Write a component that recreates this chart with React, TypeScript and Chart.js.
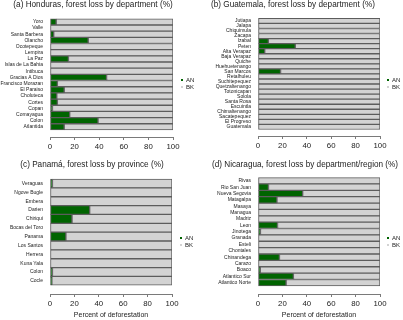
import React, { useEffect, useRef } from 'react';
import { Chart, registerables } from 'chart.js';

Chart.register(...registerables);

// ---------- data ----------
const hondurasDepartments = ['Yoro', 'Valle', 'Santa Barbera', 'Olancho', 'Ocotepeque', 'Lempira', 'La Paz', 'Islas de La Bahia', 'Intibuca', 'Gracias A Dios', 'Francisco Morazan', 'El Paraiso', 'Choluteca', 'Cortes', 'Copan', 'Comayagua', 'Colon', 'Atlantida'];
const hondurasAN = [5, 0, 3, 31, 0, 0, 15, 0, 0, 46, 6, 11.5, 5.5, 6, 2, 16, 39, 11.5];
const hondurasBK = [95, 100, 97, 69, 100, 100, 85, 100, 100, 54, 94, 88.5, 94.5, 94, 98, 84, 61, 88.5];

const guatemalaDepartments = ['Jutiapa', 'Jalapa', 'Chiquimula', 'Zacapa', 'Izabal', 'Peten', 'Alta Verapaz', 'Baja Verapaz', 'Quiche', 'Huehuetenango', 'San Marcos', 'Retalhuleu', 'Suchitepequez', 'Quetzaltenango', 'Totonicapan', 'Solola', 'Santa Rosa', 'Escuintla', 'Chimaltenango', 'Sacatepequez', 'El Progreso', 'Guatemala'];
const guatemalaAN = [0, 0, 0, 0, 8.5, 30.5, 5.5, 0, 0, 0, 18.5, 0, 0, 0, 0, 0, 0, 0, 0, 0, 0, 0];
const guatemalaBK = [100, 100, 100, 100, 91.5, 69.5, 94.5, 100, 100, 100, 81.5, 100, 100, 100, 100, 100, 100, 100, 100, 100, 100, 100];

const panamaProvinces = ['Veraguas', 'Ngove Bugle', 'Embera', 'Darien', 'Chiriqui', 'Bocas del Toro', 'Panama', 'Los Santos', 'Herrera', 'Kuna Yala', 'Colon', 'Cocle'];
const panamaAN = [2, 0, 0, 32.5, 18, 0, 13, 0, 0, 0, 2, 1.5];
const panamaBK = [98, 100, 100, 67.5, 82, 100, 87, 100, 100, 100, 98, 98.5];

const nicaraguaDepartments = ['Rivas', 'Rio San Juan', 'Nueva Segovia', 'Matagalpa', 'Masaya', 'Managua', 'Madriz', 'Leon', 'Jinotega', 'Granada', 'Esteli', 'Chontales', 'Chinandega', 'Carazo', 'Boaco', 'Atlantico Sur', 'Atlantico Norte'];
const nicaraguaAN = [0, 8.6, 36.6, 15.5, 0, 0, 0, 16, 2, 0, 0, 0, 17.6, 0, 1.8, 29, 23];
const nicaraguaBK = [100, 91.4, 63.4, 84.5, 100, 100, 100, 84, 98, 100, 100, 100, 82.4, 100, 98.2, 71, 77];

const xTickValues = [0, 20, 40, 60, 80, 100];
const seriesNames = ['AN', 'BK'];
const xAxisTitle = 'Percent of deforestation';

// ---------- styles ----------
const AN_COLOR = '#006400';
const BK_COLOR = '#d3d3d3';
const EDGE = '#5c5c5c';
const AXIS = '#7a7a7a';
const TEXT = '#222222';
const FONT = '"Liberation Sans", Arial, Helvetica, sans-serif';

type Panel = {
  title: string;
  labels: string[];
  an: number[];
  bk: number[];
  xTitle?: string;
  left: number;
  top: number;
  W: number;
  H: number;
  padL: number;
  padR: number;
  plotLeft: number;
  plotRight: number;
  titleGap: number;
  axisHeight: number;
  gap: number;
  legendX: number;
  legendY: number;
};

const panels: Panel[] = [
  {
    title: '(a) Honduras, forest loss by department (%)',
    labels: hondurasDepartments, an: hondurasAN, bk: hondurasBK,
    left: 0, top: 0, W: 200, H: 160, padL: 0, padR: 14, plotLeft: 50, plotRight: 173,
    titleGap: 5.6, axisHeight: 23, gap: 0.6, legendX: 182, legendY: 80,
  },
  {
    title: '(b) Guatemala, forest loss by department (%)',
    labels: guatemalaDepartments, an: guatemalaAN, bk: guatemalaBK,
    left: 200, top: 0, W: 203, H: 160, padL: 0, padR: 17, plotLeft: 58, plotRight: 180,
    titleGap: 5.8, axisHeight: 24, gap: 0.75, legendX: 388, legendY: 80,
  },
  {
    title: '(c) Panamá, forest loss by province (%)',
    labels: panamaProvinces, an: panamaAN, bk: panamaBK, xTitle: xAxisTitle,
    left: 0, top: 160, W: 200, H: 160, padL: 0, padR: 16, plotLeft: 50, plotRight: 172,
    titleGap: 4.2, axisHeight: 26, gap: 0.42, legendX: 181, legendY: 238,
  },
  {
    title: '(d) Nicaragua, forest loss by department/region (%)',
    labels: nicaraguaDepartments, an: nicaraguaAN, bk: nicaraguaBK, xTitle: xAxisTitle,
    left: 200, top: 160, W: 203, H: 160, padL: 7, padR: 0, plotLeft: 58, plotRight: 180,
    titleGap: 4.2, axisHeight: 26, gap: 0.72, legendX: 388, legendY: 238,
  },
];

function BarPanel({ p }: { p: Panel }) {
  const ref = useRef<HTMLCanvasElement | null>(null);

  useEffect(() => {
    if (!ref.current) return;
    const n = p.labels.length;
    const barStyle = {
      borderColor: EDGE,
      borderWidth: 1,
      borderSkipped: false as const,
      categoryPercentage: 1,
      barPercentage: 1,
    };
    const chart = new Chart(ref.current, {
      type: 'bar',
      data: {
        datasets: [
          { label: seriesNames[0], data: p.an.map((v, i) => ({ x: v, y: i })), backgroundColor: AN_COLOR, ...barStyle },
          { label: seriesNames[1], data: p.bk.map((v, i) => ({ x: v, y: i })), backgroundColor: BK_COLOR, ...barStyle },
        ],
      } as any,
      options: {
        indexAxis: 'y',
        responsive: false,
        animation: false,
        devicePixelRatio: 1,
        layout: { padding: { left: p.padL, right: p.padR, top: 0, bottom: 0 } },
        plugins: {
          legend: { display: false },
          tooltip: { enabled: false },
          title: {
            display: true,
            text: p.title,
            align: 'center',
            color: TEXT,
            font: { family: FONT, size: 8.2, weight: 'normal', lineHeight: 1.2 },
            padding: { top: 0, bottom: p.titleGap },
          },
        },
        scales: {
          x: {
            type: 'linear',
            position: 'bottom',
            stacked: true,
            min: 0,
            max: 100,
            afterBuildTicks: (s: any) => {
              s.ticks = xTickValues.map((v) => ({ value: v }));
            },
            ticks: {
              autoSkip: false,
              maxRotation: 0,
              padding: 2,
              color: TEXT,
              font: { family: FONT, size: 7.8 },
            },
            grid: {
              display: true,
              drawOnChartArea: false,
              drawTicks: true,
              tickLength: 3,
              color: AXIS,
              lineWidth: 1,
            },
            border: { display: true, color: AXIS, width: 1 },
            title: {
              display: !!p.xTitle,
              text: p.xTitle || '',
              color: TEXT,
              font: { family: FONT, size: 7, lineHeight: 1.2 },
              padding: { top: 0, bottom: 1 },
            },
            afterFit: (s: any) => {
              s.height = p.axisHeight;
            },
          },
          y: {
            type: 'linear',
            position: 'left',
            stacked: true,
            reverse: true,
            min: -0.5,
            max: n - 0.5 + p.gap,
            afterBuildTicks: (s: any) => {
              s.ticks = p.labels.map((_, i) => ({ value: i }));
            },
            ticks: {
              autoSkip: false,
              padding: 7,
              color: TEXT,
              font: { family: FONT, size: 5 },
              callback: (v: any) => p.labels[v as number] ?? '',
            },
            grid: { display: false, drawTicks: false },
            border: { display: false },
            afterFit: (s: any) => {
              s.width = p.plotLeft - p.padL;
            },
          },
          rightSpace: {
            type: 'linear',
            position: 'right',
            display: true,
            grid: { display: false, drawTicks: false },
            border: { display: false },
            ticks: { display: false },
            afterFit: (s: any) => {
              s.width = p.W - p.padR - p.plotRight;
            },
          },
        },
      } as any,
    });
    return () => chart.destroy();
  }, [p]);

  return (
    <canvas
      ref={ref}
      width={p.W}
      height={p.H}
      style={{ position: 'absolute', left: p.left, top: p.top, width: p.W, height: p.H, display: 'block' }}
    />
  );
}

function Legend({ x, y }: { x: number; y: number }) {
  const colors = [AN_COLOR, BK_COLOR];
  return (
    <>
      {seriesNames.map((name, i) => (
        <div
          key={name}
          style={{
            position: 'absolute',
            left: x - 1,
            top: y + i * 7 - 4,
            height: 8,
            display: 'flex',
            alignItems: 'center',
            fontFamily: FONT,
            fontSize: 6,
            lineHeight: '8px',
            color: TEXT,
            whiteSpace: 'nowrap',
          }}
        >
          <span style={{ display: 'inline-block', width: 2, height: 2, background: colors[i], marginRight: 3 }} />
          <span>{name}</span>
        </div>
      ))}
    </>
  );
}

export default function App() {
  return (
    <div style={{ position: 'absolute', left: 0, top: 0, width: 403, height: 320, background: '#ffffff', overflow: 'hidden' }}>
      {panels.map((p) => (
        <BarPanel key={p.title} p={p} />
      ))}
      {panels.map((p) => (
        <Legend key={'lg' + p.title} x={p.legendX} y={p.legendY} />
      ))}
    </div>
  );
}
